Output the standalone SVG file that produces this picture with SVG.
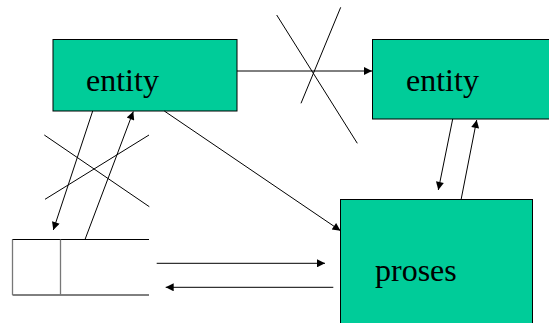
<svg xmlns="http://www.w3.org/2000/svg" width="549" height="323" viewBox="0 0 549 323">
<defs>
<marker id="ah" viewBox="0 0 10 10" refX="10" refY="5" markerWidth="10" markerHeight="8" markerUnits="userSpaceOnUse" orient="auto"><path d="M0,0 L10,5 L0,10 z" fill="#000"/></marker>
<style>
.box{fill:#00CC99;stroke:#000;stroke-width:1}
.lbl{font-family:"Liberation Serif","Times New Roman",serif;font-size:32px;fill:#000}
.ln{stroke:#000;stroke-width:1;fill:none}
.arr{stroke:#000;stroke-width:1;fill:none;marker-end:url(#ah)}
</style>
</defs>
<rect width="549" height="323" fill="#fff"/>
<g id="entity1">
<rect class="box" x="53" y="39.5" width="184" height="71.5"/>
<text class="lbl" x="86" y="91">entity</text>
</g>
<g id="entity2">
<rect class="box" x="372.5" y="39.5" width="180" height="79.5"/>
<text class="lbl" x="406" y="91">entity</text>
</g>
<g id="proses">
<rect class="box" x="340.5" y="199.5" width="192" height="130"/>
<text class="lbl" x="375" y="281">proses</text>
</g>
<g id="store">
<path class="ln" d="M149,239.5 H12.5 V295 H149"/>
<line x1="12.5" y1="239.5" x2="12.5" y2="295" stroke="#777" stroke-width="1.3"/>
<line x1="60.5" y1="239.5" x2="60.5" y2="295" stroke="#777" stroke-width="1.3"/>
</g>
<g id="connectors">
<line class="arr" x1="237" y1="71" x2="372" y2="71"/>
<line class="ln" x1="276.7" y1="15" x2="357.3" y2="143.3"/>
<line class="ln" x1="340.7" y1="7.3" x2="301" y2="103.3"/>
<line class="arr" x1="452.7" y1="119" x2="438.3" y2="190"/>
<line class="arr" x1="461" y1="200" x2="476.7" y2="120"/>
<line class="arr" x1="164.3" y1="111" x2="340.5" y2="230.7"/>
<line class="arr" x1="92.7" y1="111" x2="53.3" y2="230"/>
<line class="arr" x1="85" y1="239.5" x2="133.3" y2="111.5"/>
<line class="ln" x1="44.3" y1="135" x2="149.3" y2="206.7"/>
<line class="ln" x1="149" y1="135" x2="45" y2="199.3"/>
<line class="arr" x1="156.7" y1="263.3" x2="325" y2="263.3"/>
<line class="arr" x1="333.3" y1="287.3" x2="165.7" y2="287.3"/>
</g>
</svg>
